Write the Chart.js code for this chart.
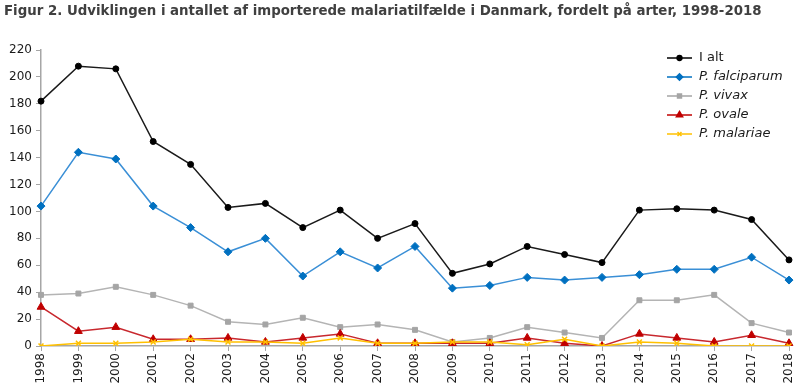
<!DOCTYPE html>
<html>
<head>
<meta charset="utf-8">
<script src="https://cdn.jsdelivr.net/npm/chart.js@4.4.1/dist/chart.umd.min.js"></script>
<style>
    * { margin: 0; padding: 0; box-sizing: border-box; }
    body { background: #ffffff; width: 800px; height: 392px; overflow: hidden; }
    .chart-container { position: relative; width: 800px; height: 392px; }
</style>
</head>
<body>
<div class="chart-container"><canvas id="malaria"></canvas></div>
<script>
// Data
const years = ["1998", "1999", "2000", "2001", "2002", "2003", "2004", "2005", "2006", "2007", "2008",
               "2009", "2010", "2011", "2012", "2013", "2014", "2015", "2016", "2017", "2018"];
const iAlt = [182, 208, 206, 152, 135, 103, 106, 88, 101, 80, 91, 54, 61, 74, 68, 62, 101, 102, 101, 94, 64];
const falciparum = [104, 144, 139, 104, 88, 70, 80, 52, 70, 58, 74, 43, 45, 51, 49, 51, 53, 57, 57, 66, 49];
const vivax = [38, 39, 44, 38, 30, 18, 16, 21, 14, 16, 12, 3, 6, 14, 10, 6, 34, 34, 38, 17, 10];
const ovale = [29, 11, 14, 5, 5, 6, 3, 6, 9, 2, 2, 2, 2, 6, 2, 0, 9, 6, 3, 8, 2];
const malariae = [0, 2, 2, 3, 5, 3, 3, 2, 6, 2, 2, 3, 3, 1, 5, 0, 3, 2, 0, 0, 0];
const yTicks = [0, 20, 40, 60, 80, 100, 120, 140, 160, 180, 200, 220];

const FONT = "'DejaVu Sans', sans-serif";

const series = [
    { label: "I alt", data: iAlt, color: "#000000", line: "#1a1a1a", style: "circle", r: 3, italic: false, order: 5 },
    { label: "P. falciparum", data: falciparum, color: "#0070c0", line: "#3a8fd6", style: "rectRot", r: 4, italic: true, order: 4 },
    { label: "P. vivax", data: vivax, color: "#a5a5a5", line: "#b4b4b4", style: "rect", r: 3.5, italic: true, order: 3 },
    { label: "P. ovale", data: ovale, color: "#c00000", line: "#c8282e", style: "triangle", r: 4.5, italic: true, order: 2 },
    { label: "P. malariae", data: malariae, color: "#ffc000", line: "#ffc000", style: "crossRot", r: 3.5, italic: true, order: 1 }
];

// Legend drawn inside the plot area, top right
const insideLegend = {
    id: "insideLegend",
    afterDraw(chart) {
        const ctx = chart.ctx;
        const x0 = 667, x1 = 692, tx = 699;
        let y = 58;
        series.forEach(s => {
            ctx.save();
            ctx.strokeStyle = s.color;
            ctx.lineWidth = 1.5;
            ctx.beginPath();
            ctx.moveTo(x0, y);
            ctx.lineTo(x1, y);
            ctx.stroke();
            ctx.fillStyle = s.color;
            Chart.helpers.drawPoint(ctx, { pointStyle: s.style, radius: s.r * 0.8, borderWidth: 1.5, rotation: 0 }, (x0 + x1) / 2, y);
            ctx.fillStyle = "#1a1a1a";
            ctx.font = (s.italic ? "italic " : "") + "13px " + FONT;
            ctx.textBaseline = "middle";
            ctx.textAlign = "left";
            ctx.fillText(s.label, tx, y);
            ctx.restore();
            y += 19;
        });
    }
};

new Chart(document.getElementById("malaria").getContext("2d"), {
    type: "line",
    data: {
        labels: years,
        datasets: series.map(s => ({
            label: s.label,
            data: s.data,
            order: s.order,
            borderColor: s.line,
            backgroundColor: s.color,
            borderWidth: 1.5,
            pointStyle: s.style,
            pointRadius: s.r,
            pointBackgroundColor: s.color,
            pointBorderColor: s.color,
            pointBorderWidth: s.style === "crossRot" ? 1.5 : 1,
            tension: 0,
            fill: false
        }))
    },
    options: {
        responsive: true,
        maintainAspectRatio: false,
        animation: false,
        layout: { padding: { left: 4, right: 11, top: 0, bottom: 0 } },
        plugins: {
            legend: { display: false },
            tooltip: { enabled: false },
            title: {
                display: true,
                text: "Figur 2. Udviklingen i antallet af importerede malariatilfælde i Danmark, fordelt på arter, 1998-2018",
                align: "start",
                color: "#404040",
                font: { family: FONT, size: 13.35, weight: "bold" },
                padding: { top: 4, bottom: 30 }
            }
        },
        scales: {
            x: {
                offset: false,
                grid: { display: true, drawOnChartArea: false, drawTicks: true, tickLength: 5, color: "#a6a6a6" },
                border: { color: "#a6a6a6", width: 1.5 },
                ticks: {
                    minRotation: 90, maxRotation: 90, autoSkip: false,
                    color: "#1a1a1a", font: { family: FONT, size: 12 }, padding: 2
                },
                afterFit: scale => {
                    scale.height = 46;
                    scale.paddingLeft = 0;
                    scale.paddingRight = 0;
                }
            },
            y: {
                min: 0, max: 220,
                afterBuildTicks: scale => { scale.ticks = yTicks.map(v => ({ value: v })); },
                grid: { display: true, drawOnChartArea: false, drawTicks: true, tickLength: 5, color: "#a6a6a6" },
                border: { color: "#a6a6a6", width: 1.5 },
                ticks: { color: "#1a1a1a", font: { family: FONT, size: 12 }, padding: 4 },
                afterFit: scale => { scale.width = 37; }
            }
        }
    },
    plugins: [insideLegend]
});
</script>
</body>
</html>
